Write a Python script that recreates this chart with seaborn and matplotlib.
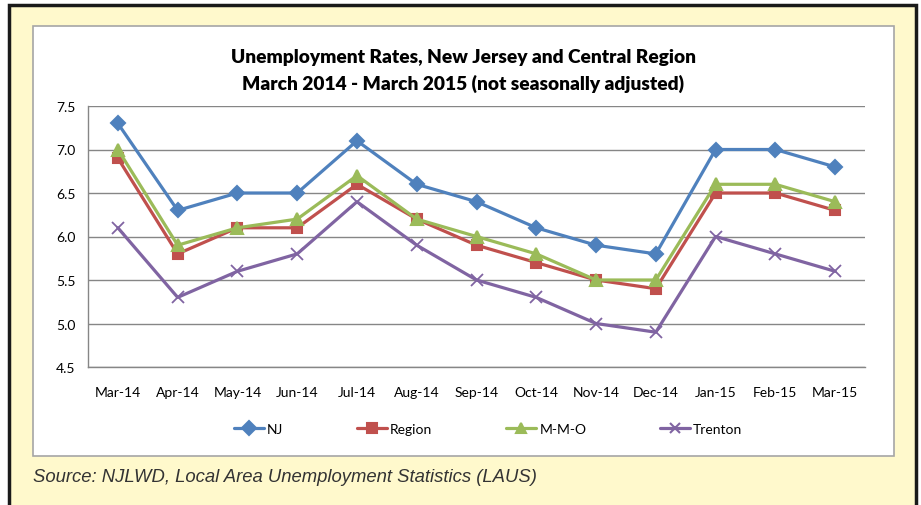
#!/usr/bin/env python3
"""
Taxas de desemprego NJ e regiao central, mar/2014 - mar/2015
"""

import pandas as pd
import matplotlib.pyplot as plt
import seaborn as sns
from matplotlib.patches import Rectangle
from matplotlib.ticker import MultipleLocator, FixedLocator

meses = ['Mar-14', 'Apr-14', 'May-14', 'Jun-14', 'Jul-14', 'Aug-14', 'Sep-14',
         'Oct-14', 'Nov-14', 'Dec-14', 'Jan-15', 'Feb-15', 'Mar-15']
nj = [7.3, 6.3, 6.5, 6.5, 7.1, 6.6, 6.4, 6.1, 5.9, 5.8, 7.0, 7.0, 6.8]
region = [6.9, 5.8, 6.1, 6.1, 6.6, 6.2, 5.9, 5.7, 5.5, 5.4, 6.5, 6.5, 6.3]
mmo = [7.0, 5.9, 6.1, 6.2, 6.7, 6.2, 6.0, 5.8, 5.5, 5.5, 6.6, 6.6, 6.4]
trenton = [6.1, 5.3, 5.6, 5.8, 6.4, 5.9, 5.5, 5.3, 5.0, 4.9, 6.0, 5.8, 5.6]

series = ['NJ', 'Region', 'M-M-O', 'Trenton']
cores = ['#4F81BD', '#C0504D', '#9BBB59', '#8064A2']
marcadores = ['D', 's', '^', 'x']
tam_marc = [7.5, 7.5, 8.5, 8.5]

# tabela longa
df = pd.DataFrame({'mes': meses * 4,
                   'pos': list(range(len(meses))) * 4,
                   'taxa': nj + region + mmo + trenton,
                   'serie': [s for s in series for _ in meses]})

sns.set_style("white")
plt.rcParams['font.family'] = ['Lato', 'DejaVu Sans']

W, H = 921, 506
fig = plt.figure(figsize=(W / 100, H / 100), dpi=100)

# fundo amarelo com borda preta (cortada embaixo, como no original)
fig.patches.append(Rectangle((9 / W, -0.02), 907 / W, 1.02 - 6 / H, transform=fig.transFigure,
                             facecolor='#FFF9CC', edgecolor='#1a1a1a', linewidth=2.5, zorder=-2))
# caixa branca do grafico
fig.patches.append(Rectangle((33 / W, 1 - 457 / H), 861 / W, 430 / H, transform=fig.transFigure,
                             facecolor='white', edgecolor='#A6A6A6', linewidth=1.2, zorder=-1))

ax = fig.add_axes([88 / W, 1 - 368 / H, 777 / W, 261 / H])
ax.set_facecolor('none')

# uma chamada por serie (marcadores cheios e 'x' nao se misturam no seaborn)
for s, c, m, ms in zip(series, cores, marcadores, tam_marc):
    sns.lineplot(data=df[df['serie'] == s], x='pos', y='taxa', color=c,
                 marker=m, markersize=ms, markeredgewidth=1.5 if m != 'x' else 1.3,
                 markeredgecolor=c, linewidth=2.3, ax=ax, zorder=3)

ax.set_xlim(-0.5, len(meses) - 0.5)
ax.set_ylim(4.5, 7.5)
ax.yaxis.set_major_locator(MultipleLocator(0.5))
ax.set_yticklabels([f'{v:.1f}' for v in ax.get_yticks()])
ax.set_xticks(range(len(meses)))
ax.set_xticklabels(meses)
ax.xaxis.set_minor_locator(FixedLocator([i - 0.5 for i in range(len(meses) + 1)]))
ax.tick_params(axis='x', which='major', length=0, pad=14, labelsize=10, labelcolor='black')
ax.tick_params(axis='x', which='minor', length=5, color='#868686', direction='out')
ax.tick_params(axis='y', length=5, color='#868686', direction='out', labelsize=10, pad=4,
               labelcolor='black')
ax.grid(axis='y', color='#868686', linewidth=1)
ax.set_axisbelow(True)
for s in ['top', 'right']:
    ax.spines[s].set_visible(False)
for s in ['left', 'bottom']:
    ax.spines[s].set_color('#868686')
    ax.spines[s].set_linewidth(1)
ax.set_xlabel('')
ax.set_ylabel('')

fig.text(463 / W, 1 - 57 / H, 'Unemployment Rates, New Jersey and Central Region',
         ha='center', va='center', fontsize=13.8, fontweight='heavy', color='black')
fig.text(463 / W, 1 - 84 / H, 'March 2014 - March 2015 (not seasonally adjusted)',
         ha='center', va='center', fontsize=13.8, fontweight='heavy', color='black')

# legenda
handles = [plt.Line2D([], [], color=c, marker=m, linewidth=2.3, markersize=7,
                      markeredgewidth=1.5) for c, m in zip(cores, marcadores)]
fig.legend(handles, series, loc='center', bbox_to_anchor=(488 / W, 1 - 430 / H),
           ncol=4, frameon=False, fontsize=10, handlelength=2.2, handletextpad=0.2,
           columnspacing=5.3, labelcolor='black')

fig.text(33 / W, 1 - 478 / H, 'Source: NJLWD, Local Area Unemployment Statistics (LAUS)',
         ha='left', va='center', fontsize=13.3, style='italic', color='#333333',
         family=['Liberation Sans', 'DejaVu Sans'])

fig.savefig('out.png', dpi=100)
